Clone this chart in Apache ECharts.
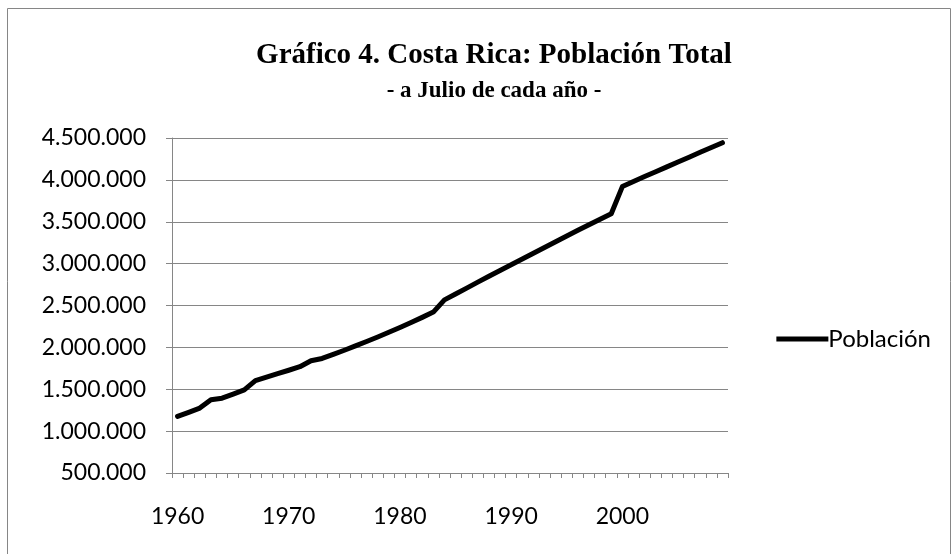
<!DOCTYPE html>
<html>
<head>
<meta charset="utf-8">
<script src="https://cdn.jsdelivr.net/npm/echarts@6/dist/echarts.min.js"></script>
<style>
  html, body { margin: 0; padding: 0; background: #fff; }
  #chart { width: 952px; height: 554px; }
</style>
</head>
<body>
<div id="chart"></div>
<script>
  // años 1960-2009
  const years = [];
  for (let y = 1960; y <= 2009; y++) years.push(String(y));

  // población a julio de cada año
  const poblacion = [
    1176000, 1225000, 1275000, 1374000, 1393000, 1442000, 1492000, 1603000, 1644000, 1686000,
    1727000, 1769000, 1840000, 1868000, 1917000, 1966000, 2018000, 2070000, 2124000, 2180000,
    2238000, 2298000, 2358000, 2421000, 2567000, 2637000, 2708000, 2779000, 2850000, 2919000,
    2987000, 3055000, 3124000, 3193000, 3262000, 3330000, 3398000, 3465000, 3531000, 3595000,
    3920000, 3980000, 4040000, 4098000, 4155000, 4213000, 4271000, 4329000, 4386000, 4444000,
  ];

  const yTicks = [500000, 4500000, 500000]; // min, max, intervalo

  const fmt = (v) => String(v).replace(/\B(?=(\d{3})+(?!\d))/g, '.');

  const chart = echarts.init(document.getElementById('chart'));

  const option = {
    animation: false,
    title: [
      {
        text: 'Gráfico 4. Costa Rica: Población Total',
        left: 489,
        textAlign: 'center',
        top: 36,
        textStyle: { fontFamily: 'Liberation Serif', fontWeight: 'bold', fontSize: 29, color: '#000' },
      },
      {
        text: '- a Julio de cada año -',
        left: 489,
        textAlign: 'center',
        top: 75,
        textStyle: { fontFamily: 'Liberation Serif', fontWeight: 'bold', fontSize: 23, color: '#000' },
      },
    ],
    legend: {
      data: ['Población'],
      right: 16,
      top: 322,
      orient: 'vertical',
      itemWidth: 52,
      itemHeight: 5,
      itemGap: 0,
      icon: 'rect',
      textStyle: { fontFamily: 'Lato', fontSize: 24, color: '#000', padding: [0, 0, 0, -5] },
    },
    grid: { left: 172, right: 224, top: 138, bottom: 81 },
    xAxis: {
      type: 'category',
      data: years,
      boundaryGap: true,
      axisLine: { lineStyle: { color: '#868686', width: 1 } },
      axisTick: { show: true, length: 5, interval: 0, lineStyle: { color: '#868686' } },
      axisLabel: {
        interval: 9,
        margin: 32,
        fontFamily: 'Lato',
        fontSize: 23,
        color: '#000',
      },
      splitLine: { show: false },
    },
    yAxis: {
      type: 'value',
      min: yTicks[0],
      max: yTicks[1],
      interval: yTicks[2],
      axisLine: { show: true, lineStyle: { color: '#868686', width: 1 } },
      axisTick: { show: true, length: 6, lineStyle: { color: '#868686' } },
      axisLabel: { formatter: fmt, margin: 26, fontFamily: 'Lato', fontSize: 23, color: '#000' },
      splitLine: { lineStyle: { color: '#868686', width: 1 } },
    },
    series: [
      {
        name: 'Población',
        type: 'line',
        data: poblacion,
        showSymbol: false,
        symbol: 'none',
        itemStyle: { color: '#000' },
        lineStyle: { color: '#000', width: 5, cap: 'round', join: 'round' },
      },
    ],
    graphic: [
      {
        type: 'rect',
        shape: { x: 7.5, y: 8.5, width: 943, height: 600 },
        style: { fill: 'none', stroke: '#868686', lineWidth: 1 },
        silent: true,
        z: -1,
      },
    ],
  };

  chart.setOption(option);
</script>
</body>
</html>
